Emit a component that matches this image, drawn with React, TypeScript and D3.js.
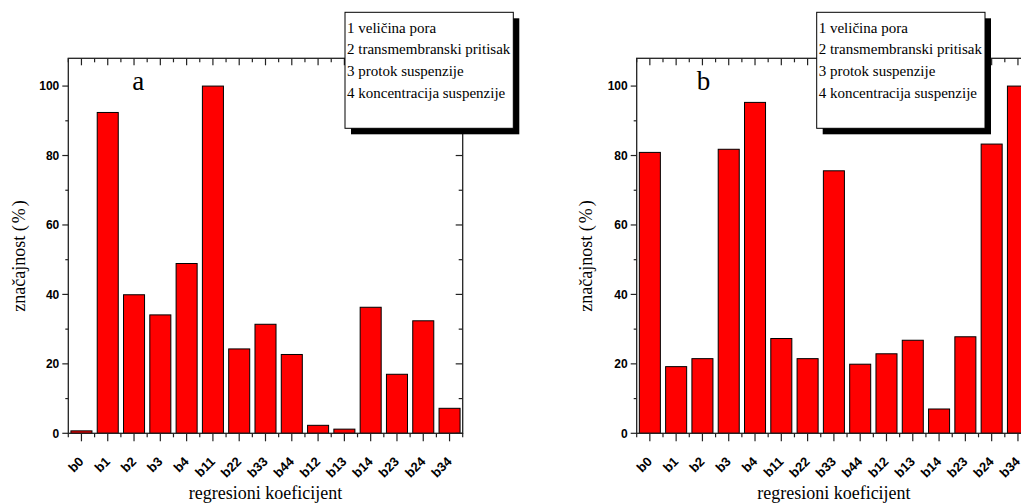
import React from 'react';
import * as d3 from 'd3';

const categories = ['b0', 'b1', 'b2', 'b3', 'b4', 'b11', 'b22', 'b33', 'b44', 'b12', 'b13', 'b14', 'b23', 'b24', 'b34'];
const valuesA = [0.7, 92.4, 39.9, 34.1, 48.9, 100, 24.3, 31.4, 22.7, 2.3, 1.2, 36.3, 17.0, 32.4, 7.2];
const valuesB = [80.9, 19.2, 21.5, 81.8, 95.3, 27.3, 21.5, 75.6, 19.9, 22.9, 26.8, 7.0, 27.8, 83.3, 100];
const yMajorTicks = [0, 20, 40, 60, 80, 100];
const yMinorTicks = [10, 30, 50, 70, 90];
const legendLines = ['1 veličina pora', '2 transmembranski pritisak', '3 protok suspenzije', '4 koncentracija suspenzije'];
const xTitle = 'regresioni koeficijent';

const W = 1021;
const H = 504;
const TOP = 58.3;
const BOTTOM = 433.3;
const PW = 394.4;

const SERIF = '"Liberation Serif", "Times New Roman", serif';
const SANS = '"Liberation Sans", Arial, sans-serif';
const AX = '#222';

type PanelProps = {
  left: number;
  values: number[];
  letter: string;
  letterDx: number;
  legendX: number;
  yTitleX: number;
};

function Panel({ left, values, letter, letterDx, legendX, yTitleX }: PanelProps) {
  const right = left + PW;
  const x = d3.scaleBand<string>().domain(categories).range([left, right]).paddingInner(0.2).paddingOuter(0.1);
  const y = d3.scaleLinear().domain([0, 108]).range([BOTTOM, TOP]);
  const step = x.step();
  const centers = categories.map((c) => (x(c) as number) + x.bandwidth() / 2);
  const bounds = d3.range(categories.length + 1).map((i) => left + i * step);
  const legendY = 12.3;
  const legendW = 168.3;
  const legendH = 116;
  return (
    <g>
      {categories.map((c, i) => (
        <rect key={c} x={x(c)} y={y(values[i])} width={x.bandwidth()} height={BOTTOM - y(values[i])}
          fill="#ff0000" stroke="#000" strokeWidth={1} />
      ))}
      <rect x={left} y={TOP} width={PW} height={BOTTOM - TOP} fill="none" stroke={AX} strokeWidth={1.3} />
      {yMajorTicks.map((t) => (
        <g key={'ly' + t}>
          <line x1={left - 6} x2={left} y1={y(t)} y2={y(t)} stroke={AX} strokeWidth={1.2} />
          <line x1={right} x2={right - 7} y1={y(t)} y2={y(t)} stroke={AX} strokeWidth={1.2} />
          <text x={left - 9} y={y(t)} dy="0.36em" textAnchor="end" fontFamily={SANS} fontWeight="bold" fontSize={12}>{t}</text>
        </g>
      ))}
      {yMinorTicks.map((t) => (
        <g key={'lm' + t}>
          <line x1={left - 3} x2={left} y1={y(t)} y2={y(t)} stroke={AX} strokeWidth={1.2} />
          <line x1={right} x2={right - 4} y1={y(t)} y2={y(t)} stroke={AX} strokeWidth={1.2} />
        </g>
      ))}
      {centers.map((cx, i) => (
        <g key={'xc' + i}>
          <line x1={cx} x2={cx} y1={BOTTOM} y2={BOTTOM + 8} stroke={AX} strokeWidth={1.2} />
          <line x1={cx} x2={cx} y1={TOP} y2={TOP + 7} stroke={AX} strokeWidth={1.2} />
          <text transform={`translate(${cx + 3},${BOTTOM + 29}) rotate(-45)`} textAnchor="end"
            fontFamily={SANS} fontWeight="bold" fontSize={13}>{categories[i]}</text>
        </g>
      ))}
      {bounds.map((bx, i) => (
        <g key={'xb' + i}>
          <line x1={bx} x2={bx} y1={BOTTOM} y2={BOTTOM + 4} stroke={AX} strokeWidth={1.2} />
          <line x1={bx} x2={bx} y1={TOP} y2={TOP + 4} stroke={AX} strokeWidth={1.2} />
        </g>
      ))}
      <text x={left + PW / 2} y={499} textAnchor="middle" fontFamily={SERIF} fontSize={18}>{xTitle}</text>
      <text transform={`translate(${yTitleX},256) rotate(-90)`} textAnchor="middle" fontFamily={SERIF} fontSize={18}>
        značajnost (<tspan dx={2}>%</tspan><tspan dx={2}>)</tspan>
      </text>
      <text x={left + letterDx} y={90} fontFamily={SERIF} fontSize={27}>{letter}</text>
      <rect x={legendX + 6} y={legendY + 6} width={legendW} height={legendH} fill="#000" />
      <rect x={legendX} y={legendY} width={legendW} height={legendH} fill="#fff" stroke="#000" strokeWidth={1} />
      {legendLines.map((l, i) => (
        <text key={l} x={legendX + 2} y={legendY + 20.4 + i * 21.7} fontFamily={SERIF} fontSize={15}>{l}</text>
      ))}
    </g>
  );
}

export default function App() {
  return (
    <svg width={W} height={H} style={{ position: 'absolute', left: 0, top: 0, background: '#fff' }}>
      <rect x={0} y={0} width={W} height={H} fill="#fff" />
      <Panel left={68.3} values={valuesA} letter="a" letterDx={64} legendX={345} yTitleX={25} />
      <Panel left={636.7} values={valuesB} letter="b" letterDx={60} legendX={816.7} yTitleX={592} />
    </svg>
  );
}
